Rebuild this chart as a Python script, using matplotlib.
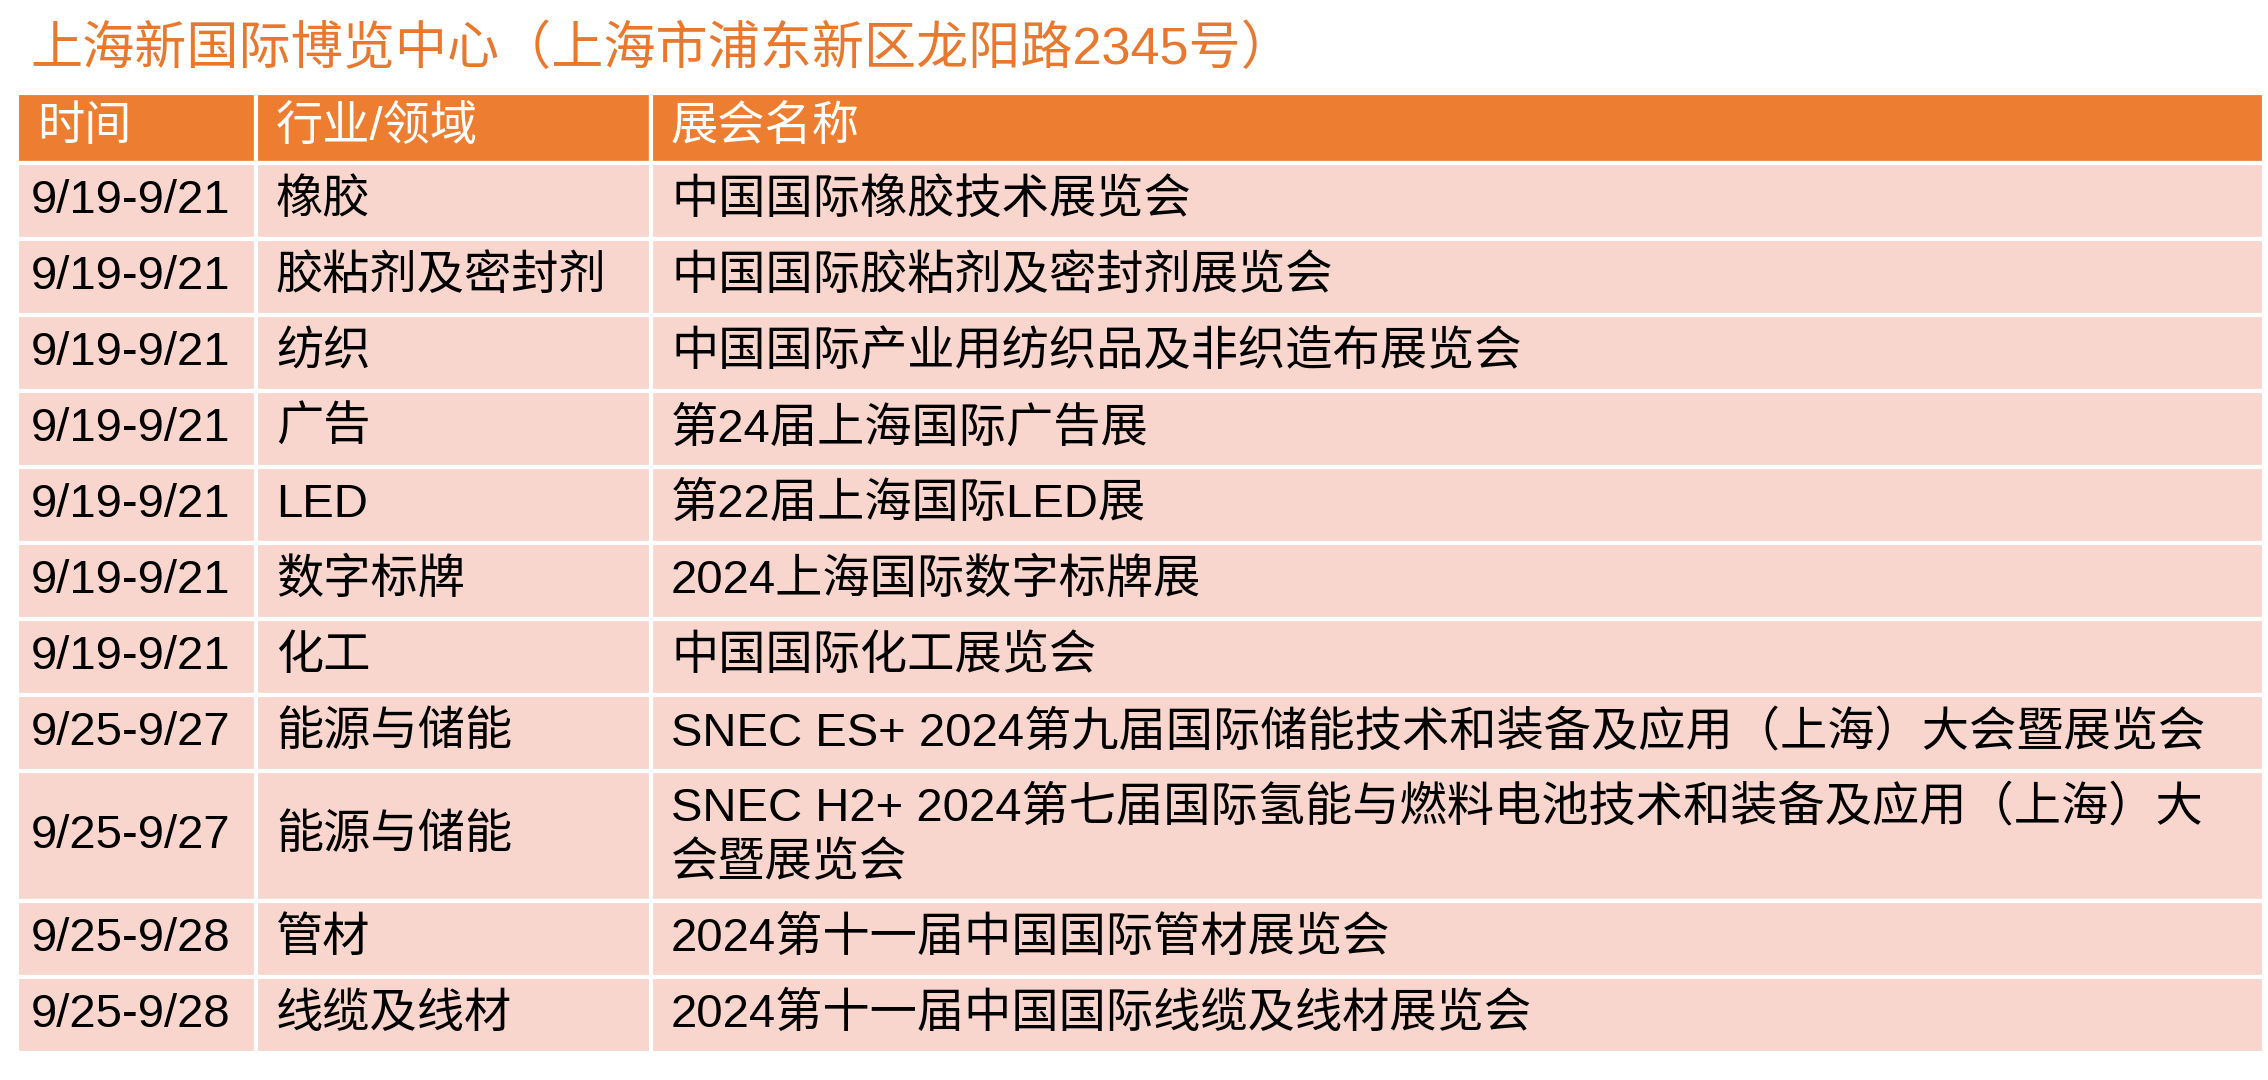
import matplotlib.pyplot as plt
from matplotlib.patches import Rectangle

title = "上海新国际博览中心（上海市浦东新区龙阳路2345号）"
headers = ["时间", "行业/领域", "展会名称"]
dates = ["9/19-9/21"] * 7 + ["9/25-9/27", "9/25-9/27", "9/25-9/28", "9/25-9/28"]
fields = ["橡胶", "胶粘剂及密封剂", "纺织", "广告", "LED", "数字标牌", "化工",
          "能源与储能", "能源与储能", "管材", "线缆及线材"]
names = ["中国国际橡胶技术展览会",
         "中国国际胶粘剂及密封剂展览会",
         "中国国际产业用纺织品及非织造布展览会",
         "第24届上海国际广告展",
         "第22届上海国际LED展",
         "2024上海国际数字标牌展",
         "中国国际化工展览会",
         "SNEC ES+ 2024第九届国际储能技术和装备及应用（上海）大会暨展览会",
         "SNEC H2+ 2024第七届国际氢能与燃料电池技术和装备及应用（上海）大\n会暨展览会",
         "2024第十一届中国国际管材展览会",
         "2024第十一届中国国际线缆及线材展览会"]

W, H = 2268, 1080
FONT = ["Liberation Sans", "Noto Sans CJK SC"]
ORANGE = "#ED7D31"
PINK = "#F8D6CD"

fig = plt.figure(figsize=(W / 100, H / 100), dpi=100)
ax = fig.add_axes([0, 0, 1, 1])
ax.set_xlim(0, W)
ax.set_ylim(H, 0)
ax.axis("off")

ax.text(30, 50, title, fontsize=37.5, color="#E8782E", family=FONT, va="center")

col_x = [17, 256, 651, 2264]
pad = 20
y = 93
head_h = 70
row_h = 76
line_h = 54

for i, h in enumerate(headers):
    ax.add_patch(Rectangle((col_x[i], y), col_x[i + 1] - col_x[i], head_h,
                           facecolor=ORANGE, edgecolor="white", lw=3))
    ax.text(col_x[i] + pad, y + head_h / 2, h, fontsize=34, color="white",
            family=FONT, va="center")
y += head_h

for d, f, n in zip(dates, fields, names):
    nlines = n.count("\n") + 1
    h = row_h + (nlines - 1) * line_h
    for i, txt in enumerate([d, f, n]):
        ax.add_patch(Rectangle((col_x[i], y), col_x[i + 1] - col_x[i], h,
                               facecolor=PINK, edgecolor="white", lw=3))
        ax.text(col_x[i] + (14 if i == 0 else pad), y + h / 2, txt,
                fontsize=34, color="black", family=FONT, va="center",
                linespacing=1.35)
    y += h

fig.savefig("out.png", dpi=100)
